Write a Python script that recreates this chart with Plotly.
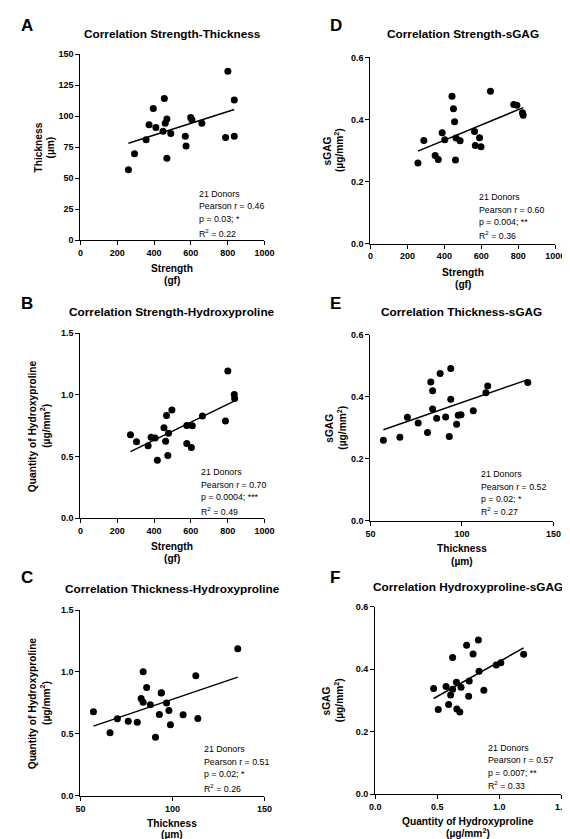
import numpy as np
import plotly.graph_objects as go

W, H = 570, 839

# ---------------- data ----------------
# A: Strength vs Thickness
a_strength = [261, 294, 357, 373, 396, 410, 449, 456, 461, 470, 470, 491, 570, 574, 599, 606, 660, 789, 801, 836, 836]
a_thickness = [56.8, 69.8, 81.0, 93.2, 106.2, 91.0, 87.9, 114.2, 94.3, 97.7, 66.1, 86.0, 83.9, 75.9, 99.0, 97.2, 94.3, 82.8, 136.2, 83.9, 113.1]
# B: Strength vs Hydroxyproline
b_strength = [272, 305, 368, 384, 406, 418, 454, 463, 468, 475, 479, 497, 578, 578, 603, 608, 663, 788, 801, 836, 838]
b_hyp = [0.677, 0.619, 0.587, 0.656, 0.651, 0.469, 0.733, 0.624, 0.833, 0.509, 0.688, 0.878, 0.752, 0.605, 0.573, 0.749, 0.829, 0.787, 1.193, 1.003, 0.971]
# C: Thickness vs Hydroxyproline
c_thickness = [57.1, 66.1, 70.1, 76.0, 80.9, 83.0, 84.1, 84.1, 86.0, 88.0, 90.8, 92.9, 94.0, 93.9, 96.8, 98.1, 98.9, 105.8, 112.7, 113.8, 135.5]
c_hyp = [0.677, 0.509, 0.621, 0.602, 0.592, 0.786, 1.002, 0.754, 0.874, 0.735, 0.472, 0.655, 0.831, 0.829, 0.749, 0.687, 0.573, 0.653, 0.970, 0.623, 1.188]
# D: Strength vs sGAG
d_strength = [257, 289, 350, 367, 388, 402, 441, 449, 455, 460, 463, 485, 563, 567, 590, 598, 649, 775, 792, 822, 826]
d_sgag = [0.260, 0.332, 0.284, 0.271, 0.357, 0.335, 0.475, 0.435, 0.393, 0.269, 0.340, 0.331, 0.361, 0.316, 0.341, 0.312, 0.491, 0.448, 0.446, 0.422, 0.414]
# E: Thickness vs sGAG
e_thickness = [57.1, 66.1, 70.2, 76.1, 81.2, 83.0, 84.0, 84.0, 86.2, 88.1, 91.1, 93.1, 93.9, 93.9, 97.1, 98.0, 99.5, 106.2, 113.1, 114.1, 136.0]
e_sgag = [0.260, 0.270, 0.334, 0.316, 0.285, 0.448, 0.420, 0.361, 0.331, 0.475, 0.335, 0.272, 0.491, 0.392, 0.312, 0.341, 0.342, 0.355, 0.413, 0.435, 0.446]
# F: Hydroxyproline vs sGAG
f_hyp = [0.471, 0.508, 0.571, 0.592, 0.608, 0.624, 0.624, 0.655, 0.658, 0.682, 0.692, 0.737, 0.753, 0.758, 0.789, 0.832, 0.837, 0.876, 0.976, 1.013, 1.197]
f_sgag = [0.339, 0.271, 0.345, 0.287, 0.318, 0.438, 0.336, 0.359, 0.273, 0.263, 0.343, 0.477, 0.314, 0.363, 0.449, 0.494, 0.394, 0.333, 0.414, 0.421, 0.448]

titles = ["Correlation Strength-Thickness", "Correlation Strength-Hydroxyproline",
          "Correlation Thickness-Hydroxyproline", "Correlation Strength-sGAG",
          "Correlation Thickness-sGAG", "Correlation Hydroxyproline-sGAG"]
letters = ["A", "B", "C", "D", "E", "F"]
stats = [
    ["21 Donors", "Pearson r = 0.46", "p = 0.03; *", "R<sup>2</sup> = 0.22"],
    ["21 Donors", "Pearson r = 0.70", "p = 0.0004; ***", "R<sup>2</sup> = 0.49"],
    ["21 Donors", "Pearson r = 0.51", "p = 0.02; *", "R<sup>2</sup> = 0.26"],
    ["21 Donors", "Pearson r = 0.60", "p = 0.004; **", "R<sup>2</sup> = 0.36"],
    ["21 Donors", "Pearson r = 0.52", "p = 0.02; *", "R<sup>2</sup> = 0.27"],
    ["21 Donors", "Pearson r = 0.57", "p = 0.007; **", "R<sup>2</sup> = 0.33"],
]
strength_ticks = [0, 200, 400, 600, 800, 1000]
thick_ticks = [50, 100, 150]
thick_y_ticks = [0, 25, 50, 75, 100, 125, 150]
hyp_ticks = [0.0, 0.5, 1.0, 1.5]
sgag_ticks = [0.0, 0.2, 0.4, 0.6]
x_titles = [["Strength", "(gf)"], ["Strength", "(gf)"], ["Thickness", "(µm)"],
            ["Strength", "(gf)"], ["Thickness", "(µm)"], ["Quantity of Hydroxyproline", "(µg/mm<sup>2</sup>)"]]
y_titles = [["Thickness", "(µm)"], ["Quantity of Hydroxyproline", "(µg/mm<sup>2</sup>)"],
            ["Quantity of Hydroxyproline", "(µg/mm<sup>2</sup>)"], ["sGAG", "(µg/mm<sup>2</sup>)"],
            ["sGAG", "(µg/mm<sup>2</sup>)"], ["sGAG", "(µg/mm<sup>2</sup>)"]]

series = [(a_strength, a_thickness), (b_strength, b_hyp), (c_thickness, c_hyp),
          (d_strength, d_sgag), (e_thickness, e_sgag), (f_hyp, f_sgag)]
xticks = [strength_ticks, strength_ticks, thick_ticks, strength_ticks, thick_ticks, hyp_ticks]
yticks = [thick_y_ticks, hyp_ticks, hyp_ticks, sgag_ticks, sgag_ticks, sgag_ticks]
xfmt = ["", "", "", "", "", ".1f"]
yfmt = ["", ".1f", ".1f", ".1f", ".1f", ".1f"]

# ---------------- layout geometry (pixels) ----------------
# plot boxes: (left, right, top, bottom)
boxes = [(68.3, 257.7, 41.7, 230.0), (68.3, 257.7, 324.0, 511.3), (68.3, 257.7, 604.3, 792.0),
         (366.7, 557.0, 45.0, 233.3), (366.7, 555.0, 325.7, 514.0), (371.7, 563.0, 601.0, 790.7)]
letter_pos = [(5, 12.5), (5, 294), (5, 571), (323, 12.5), (323, 294), (323, 571)]
title_y = [21.7, 303, 583.3, 21, 303, 581]
stat_pos = [(188.7, [183.3, 195.7, 208.7, 222.7]), (190, [465, 477.7, 490.3, 503.7]),
            (193.3, [745, 757.7, 770.3, 784]), (476.7, [186.7, 199.3, 212, 224.7]),
            (478.3, [466.7, 479.3, 492, 504]), (486, [744, 756, 768.7, 781.3])]
ytitle_x = [(25, 37.3), (19, 32), (19, 32), (323, 335), (325, 337.3), (322, 334)]
xtitle_off = [(28.3, 41), (28.3, 41), (28.0, 39.2), (29, 41), (28.3, 41), (27.6, 39.5)]

FONT = "Liberation Sans, Arial, Helvetica, sans-serif"

def px(x):
    return x / W

def py(y):
    return 1 - y / H

fig = go.Figure()
annotations = []
layout = {}

for i in range(6):
    n = "" if i == 0 else str(i + 1)
    xs, ys = series[i]
    xt, yt = xticks[i], yticks[i]
    l, r, t, b = boxes[i]
    fig.add_trace(go.Scatter(x=xs, y=ys, mode="markers", xaxis="x" + n, yaxis="y" + n,
                             marker=dict(size=7, color="black"), showlegend=False, cliponaxis=False))
    k, c0 = np.polyfit(xs, ys, 1)
    lx = np.array([min(xs), max(xs)])
    fig.add_trace(go.Scatter(x=lx, y=k * lx + c0, mode="lines", xaxis="x" + n, yaxis="y" + n,
                             line=dict(color="black", width=1.5), showlegend=False))
    common = dict(showline=True, linecolor="black", linewidth=1.3, ticks="outside", ticklen=4,
                  tickwidth=1.3, tickcolor="black", showgrid=False, zeroline=False,
                  tickfont=dict(family=FONT, size=9, color="black", weight="bold"))
    layout["xaxis" + n] = dict(domain=[px(l), px(r)], anchor="y" + n, range=[xt[0], xt[-1]],
                               tickvals=xt, tickformat=xfmt[i], **common)
    layout["yaxis" + n] = dict(domain=[py(b), py(t)], anchor="x" + n, range=[yt[0], yt[-1]],
                               tickvals=yt, tickformat=yfmt[i], **common)
    # panel letter
    lxp, lyp = letter_pos[i]
    annotations.append(dict(text="<b>" + letters[i] + "</b>", x=px(lxp), y=py(lyp), xref="paper", yref="paper",
                            xanchor="left", yanchor="middle", showarrow=False,
                            font=dict(family=FONT, size=17, color="black")))
    # title
    annotations.append(dict(text="<b>" + titles[i] + "</b>", x=px((l + r) / 2), y=py(title_y[i]),
                            xref="paper", yref="paper", xanchor="center", yanchor="middle", showarrow=False,
                            font=dict(family=FONT, size=11.8, color="black")))
    # stats
    sx, sys_ = stat_pos[i]
    for line, yy in zip(stats[i], sys_):
        annotations.append(dict(text=line, x=px(sx), y=py(yy), xref="paper", yref="paper",
                                xanchor="left", yanchor="middle", showarrow=False,
                                font=dict(family=FONT, size=8.8, color="black")))
    # x title
    for j, line in enumerate(x_titles[i]):
        annotations.append(dict(text="<b>" + line + "</b>", x=px((l + r) / 2), y=py(b + xtitle_off[i][j]),
                                xref="paper", yref="paper", xanchor="center", yanchor="middle",
                                showarrow=False, font=dict(family=FONT, size=10.2, color="black")))
    # y title
    for j, line in enumerate(y_titles[i]):
        annotations.append(dict(text="<b>" + line + "</b>", x=px(ytitle_x[i][j]), y=py((t + b) / 2),
                                xref="paper", yref="paper", xanchor="center", yanchor="middle",
                                textangle=-90, showarrow=False,
                                font=dict(family=FONT, size=10.2, color="black")))

fig.update_layout(width=W, height=H, margin=dict(l=0, r=0, t=0, b=0),
                  paper_bgcolor="white", plot_bgcolor="white",
                  font=dict(family=FONT, color="black"), annotations=annotations, **layout)

fig.write_html("out.html")
